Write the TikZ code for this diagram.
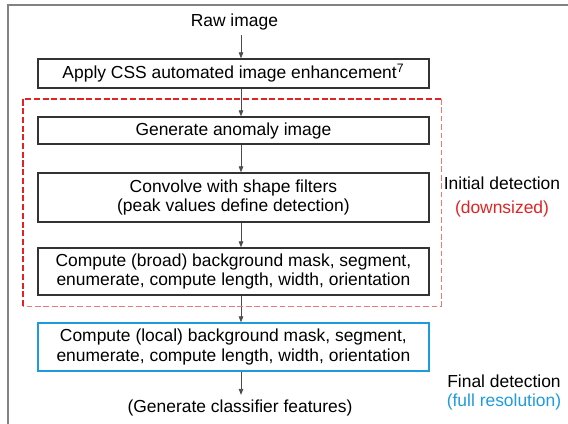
\documentclass[tikz,border=0pt]{standalone}
\usepackage{fontspec}
\setmainfont{Liberation Sans}
\usepackage{xcolor}
\usepackage{tikz}
\usetikzlibrary{arrows.meta,positioning}
\definecolor{detred}{RGB}{224,36,36}
\definecolor{detpink}{RGB}{238,120,120}
\definecolor{detblue}{RGB}{30,155,224}
\definecolor{framegray}{RGB}{130,130,130}

\begin{document}
\begin{tikzpicture}[
  font=\fontsize{12.4}{13.6}\selectfont,
  stepbox/.style={draw=black!80, line width=0.9pt, minimum width=9.775cm, align=center, inner sep=1pt},
  lab/.style={align=center},
  arrow/.style={-{Triangle[length=4.3pt, width=3.2pt]}, black!70, line width=0.6pt}
]
\useasboundingbox (0,0) rectangle (14.2,-10.6);
\draw[framegray, line width=1.1pt] (0.2,-10.7) -- (0.2,-0.125) -- (14.3,-0.125);

\coordinate (ax) at (6.025,0);
\node[lab] (raw) at (5.86,-0.55) {Raw image};
\node[stepbox, minimum height=0.725cm] (enh) at (5.835,-1.8375) {Apply CSS automated image enhancement\textsuperscript{7}};
\node[stepbox, minimum height=0.675cm] (anom) at (5.835,-3.2625) {Generate anomaly image};
\node[stepbox, minimum height=1.225cm] (conv) at (5.835,-4.9375) {Convolve with shape filters\\(peak values define detection)};
\node[stepbox, minimum height=1.175cm] (broad) at (5.835,-6.7875) {Compute (broad) background mask, segment,\\enumerate, compute length, width, orientation};
\node[stepbox, draw=detblue, minimum height=1.2cm] (local) at (5.835,-8.675) {Compute (local) background mask, segment,\\enumerate, compute length, width, orientation};
\node[lab] (feat) at (6.0,-10.2) {(Generate classifier features)};

\draw[arrow] (raw.south -| ax) -- (enh.north -| ax);
\draw[arrow] (enh.south -| ax) -- (anom.north -| ax);
\draw[arrow] (anom.south -| ax) -- (conv.north -| ax);
\draw[arrow] (conv.south -| ax) -- (broad.north -| ax);
\draw[arrow] (broad.south -| ax) -- (local.north -| ax);
\draw[arrow] (local.south -| ax) -- (feat.north -| ax);

\draw[detred, line width=1.6pt, dash pattern=on 4.3pt off 1.9pt] (0.575,-7.65) -- (0.575,-2.475) -- (11.025,-2.475);
\draw[detpink, line width=0.6pt, dash pattern=on 4pt off 2pt] (11.025,-2.475) -- (11.025,-7.65) -- (0.575,-7.65);

\node[lab] (initial) at (12.55,-4.925) {Initial detection\\[3pt]\textcolor{detred}{(downsized)}};
\node[lab] (final) at (12.6,-9.8125) {Final detection\\\textcolor{detblue}{(full resolution)}};
\end{tikzpicture}
\end{document}
